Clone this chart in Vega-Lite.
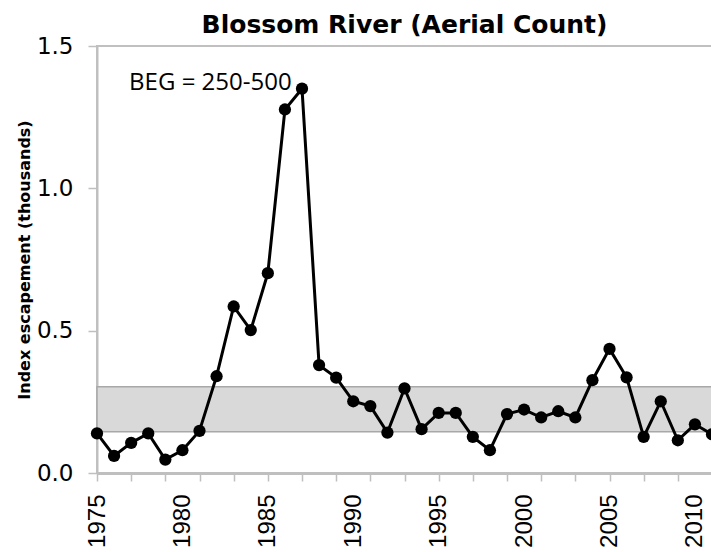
{
  "$schema": "https://vega.github.io/schema/vega-lite/v6.json",
  "width": 615,
  "height": 427,
  "autosize": "none",
  "padding": {"left": 97, "top": 46, "right": 0, "bottom": 79},
  "background": "white",
  "config": {
    "view": {"stroke": "#c0c0c0", "strokeWidth": 2},
    "font": "Liberation Sans"
  },
  "title": {
    "text": "Blossom River (Aerial  Count)",
    "font": "DejaVu Sans",
    "fontSize": 25,
    "fontWeight": "bold",
    "color": "#000000",
    "anchor": "middle",
    "frame": "group",
    "offset": -3
  },
  "resolve": {"axis": {"x": "independent"}},
  "datasets": {
    "escapement": [
      {"year": 1975, "value": 0.139},
      {"year": 1976, "value": 0.060},
      {"year": 1977, "value": 0.106},
      {"year": 1978, "value": 0.139},
      {"year": 1979, "value": 0.047},
      {"year": 1980, "value": 0.080},
      {"year": 1981, "value": 0.148},
      {"year": 1982, "value": 0.340},
      {"year": 1983, "value": 0.585},
      {"year": 1984, "value": 0.502},
      {"year": 1985, "value": 0.702},
      {"year": 1986, "value": 1.277},
      {"year": 1987, "value": 1.350},
      {"year": 1988, "value": 0.379},
      {"year": 1989, "value": 0.335},
      {"year": 1990, "value": 0.252},
      {"year": 1991, "value": 0.235},
      {"year": 1992, "value": 0.142},
      {"year": 1993, "value": 0.297},
      {"year": 1994, "value": 0.154},
      {"year": 1995, "value": 0.211},
      {"year": 1996, "value": 0.211},
      {"year": 1997, "value": 0.127},
      {"year": 1998, "value": 0.080},
      {"year": 1999, "value": 0.207},
      {"year": 2000, "value": 0.223},
      {"year": 2001, "value": 0.195},
      {"year": 2002, "value": 0.217},
      {"year": 2003, "value": 0.195},
      {"year": 2004, "value": 0.326},
      {"year": 2005, "value": 0.436},
      {"year": 2006, "value": 0.336},
      {"year": 2007, "value": 0.127},
      {"year": 2008, "value": 0.252},
      {"year": 2009, "value": 0.115},
      {"year": 2010, "value": 0.171},
      {"year": 2011, "value": 0.136}
    ],
    "band": [
      {"start": 1975, "end": 2011, "low": 0.145, "high": 0.303}
    ]
  },
  "layer": [
    {
      "data": {"name": "band"},
      "mark": {"type": "rect", "fill": "#d9d9d9", "stroke": "#a8a8a8", "strokeWidth": 1.5},
      "encoding": {
        "x": {
          "field": "start",
          "type": "quantitative",
          "scale": {"domain": [1975, 2011], "nice": false, "zero": false},
          "axis": {
            "orient": "bottom",
            "title": null,
            "values": [1975, 1977, 1979, 1981, 1983, 1985, 1987, 1989, 1991, 1993, 1995, 1997, 1999, 2001, 2003, 2005, 2007, 2009, 2011],
            "labels": false,
            "tickSize": 8,
            "tickColor": "#bfbfbf",
            "tickWidth": 1.5,
            "domainColor": "#bfbfbf",
            "domainWidth": 3,
            "grid": false
          }
        },
        "x2": {"field": "end"},
        "y": {"field": "low", "type": "quantitative"},
        "y2": {"field": "high"}
      }
    },
    {
      "data": {"name": "escapement"},
      "mark": {"type": "line", "color": "#000000", "strokeWidth": 3, "clip": false},
      "encoding": {
        "x": {
          "field": "year",
          "type": "quantitative",
          "axis": {
            "orient": "bottom",
            "title": null,
            "values": [1975, 1980, 1985, 1990, 1995, 2000, 2005, 2010],
            "format": "d",
            "labelAngle": -90,
            "labelAlign": "right",
            "labelBaseline": "middle",
            "labelFont": "Liberation Sans",
            "labelFontSize": 24,
            "labelColor": "#000000",
            "labelPadding": 21,
            "labelOverlap": false,
            "labelFlush": false,
            "ticks": false,
            "tickSize": 0,
            "domain": false,
            "grid": false
          }
        },
        "y": {
          "field": "value",
          "type": "quantitative",
          "scale": {"domain": [0, 1.5], "nice": false},
          "axis": {
            "title": "Index escapement (thousands)",
            "titleFont": "DejaVu Sans",
            "titleFontSize": 16,
            "titleFontWeight": "bold",
            "titleColor": "#000000",
            "titlePadding": 4,
            "values": [0, 0.5, 1.0, 1.5],
            "format": ".1f",
            "labelFont": "DejaVu Sans",
            "labelFontSize": 23,
            "labelColor": "#000000",
            "labelPadding": 15,
            "tickSize": 9,
            "tickColor": "#bfbfbf",
            "tickWidth": 1.5,
            "domainColor": "#bfbfbf",
            "domainWidth": 2,
            "grid": false
          }
        }
      }
    },
    {
      "data": {"name": "escapement"},
      "mark": {"type": "circle", "color": "#000000", "size": 150, "opacity": 1, "clip": false},
      "encoding": {
        "x": {"field": "year", "type": "quantitative", "axis": null},
        "y": {"field": "value", "type": "quantitative"}
      }
    },
    {
      "data": {"values": [{}]},
      "mark": {"type": "text", "text": "BEG = 250-500", "align": "left", "baseline": "alphabetic", "font": "Open Sans", "fontSize": 24, "color": "#000000"},
      "encoding": {
        "x": {"datum": 1976.88, "type": "quantitative", "axis": null},
        "y": {"datum": 1.347, "type": "quantitative"}
      }
    }
  ]
}
